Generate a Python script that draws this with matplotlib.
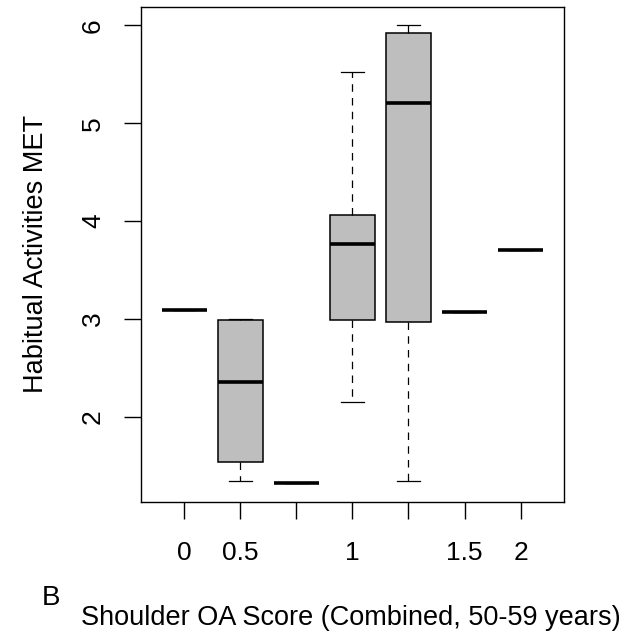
import matplotlib
matplotlib.use('Agg')
import matplotlib.pyplot as plt

plt.rcParams['font.family'] = ['Liberation Sans', 'DejaVu Sans']

# 박스플롯 요약값
groups = [1, 2, 3, 4, 5, 6, 7]
whislo = [3.09, 1.35, 1.32, 2.15, 1.35, 3.07, 3.71]
q1 = [3.09, 1.54, 1.32, 2.99, 2.97, 3.07, 3.71]
med = [3.09, 2.36, 1.32, 3.77, 5.21, 3.07, 3.71]
q3 = [3.09, 2.99, 1.32, 4.06, 5.92, 3.07, 3.71]
whishi = [3.09, 3.00, 1.32, 5.52, 6.00, 3.07, 3.71]

tick_labels = ['0', '0.5', '', '1', '', '1.5', '2']
y_ticks = [2, 3, 4, 5, 6]

stats = []
for i in range(len(groups)):
    stats.append({'whislo': whislo[i], 'q1': q1[i], 'med': med[i],
                  'q3': q3[i], 'whishi': whishi[i], 'fliers': []})

fig = plt.figure(figsize=(6.33, 6.36), dpi=100)
ax = fig.add_axes([0.222, 0.211, 0.6695, 0.778])

ax.bxp(stats, positions=groups, widths=0.8, patch_artist=True,
       showfliers=False,
       boxprops=dict(facecolor='#bebebe', edgecolor='black', linewidth=1.1),
       medianprops=dict(color='black', linewidth=2.6, solid_capstyle='butt'),
       whiskerprops=dict(color='black', linewidth=0.9, linestyle=(0, (6, 5))),
       capprops=dict(color='black', linewidth=0.9),
       capwidths=0.4)

# 축 범위 (R 스타일 4% 확장)
ymin, ymax = min(whislo), max(whishi)
ext = (ymax - ymin) * 0.04
ax.set_ylim(ymin - ext, ymax + ext)
ax.set_xlim(0.5 - 0.28, len(groups) + 0.5 + 0.28)

ax.set_xticks(groups)
ax.set_xticklabels(tick_labels, fontsize=19)
ax.set_yticks(y_ticks)
ax.set_yticklabels([str(v) for v in y_ticks], fontsize=19, rotation=90, va='center')
ax.tick_params(direction='out', length=12.5, width=1.0, colors='black')
ax.tick_params(axis='x', pad=16)
ax.tick_params(axis='y', pad=13)
for s in ax.spines.values():
    s.set_linewidth(1.0)

fig.text(36 / 633, 0.211 + 0.778 / 2, 'Habitual Activities MET', rotation=90,
         fontsize=19.5, ha='center', va='center')
fig.text(351 / 633, 1 - 618 / 636, 'Shoulder OA Score (Combined, 50-59 years)',
         fontsize=19.5, ha='center', va='center')
fig.text(42 / 633, 1 - 598 / 636, 'B', fontsize=20, ha='left', va='center')

fig.savefig('out.png', dpi=100)
